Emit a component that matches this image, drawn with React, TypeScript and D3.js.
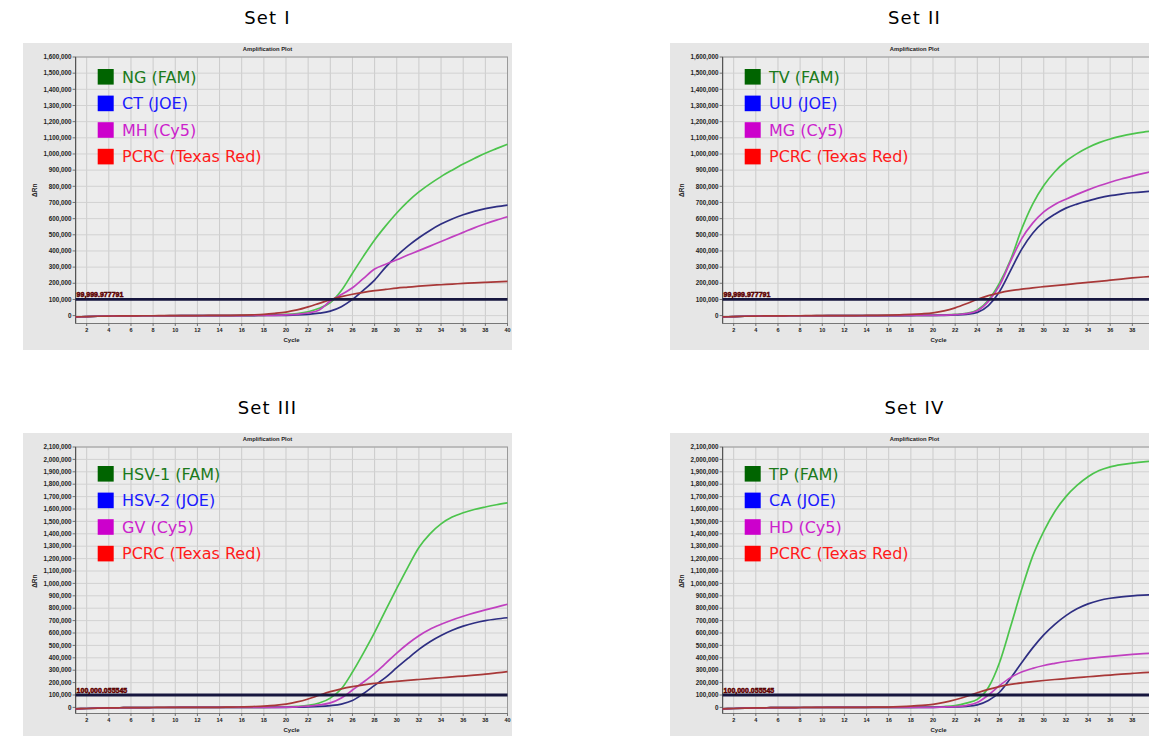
import React, { useEffect } from "react";
import * as d3 from "d3";

// ---------- data (values in thousands of ΔRn) ----------
const CYCLES = [1,2,3,4,5,6,7,8,9,10,11,12,13,14,15,16,17,18,19,20,21,22,23,24,25,26,27,28,29,30,31,32,33,34,35,36,37,38,39,40];
const X_TICKS = [2,4,6,8,10,12,14,16,18,20,22,24,26,28,30,32,34,36,38,40];
const UNIT = 1000;

const SET_TITLES = ["Set I", "Set II", "Set III", "Set IV"];

const SET1_NAMES = ["NG (FAM)", "CT (JOE)", "MH (Cy5)", "PCRC (Texas Red)"];
const SET2_NAMES = ["TV (FAM)", "UU (JOE)", "MG (Cy5)", "PCRC (Texas Red)"];
const SET3_NAMES = ["HSV-1 (FAM)", "HSV-2 (JOE)", "GV (Cy5)", "PCRC (Texas Red)"];
const SET4_NAMES = ["TP (FAM)", "CA (JOE)", "HD (Cy5)", "PCRC (Texas Red)"];

const SET1_NG = [-8,-6,-4,-3,-2,-2,-1,-1,-1,0, 0,0,0,0,0,1,1,2,4,7, 13,24,45,80,155,262,368,468,555,635, 705,765,815,860,900,938,972,1005,1033,1060];
const SET1_CT = [-8,-6,-4,-3,-2,-2,-1,-1,-1,-1, 0,0,0,0,0,0,0,1,1,2, 4,8,15,28,55,100,158,220,300,370, 430,482,527,566,598,624,645,662,674,684];
const SET1_MH = [-8,-6,-4,-3,-2,-2,-1,-1,-1,0, 0,0,0,0,0,0,1,1,2,4, 8,16,35,90,130,172,230,288,318,345, 375,402,430,458,487,515,543,568,591,612];
const SET1_PCRC = [-8,-6,-4,-3,-2,-2,-1,-1,0,0, 0,0,1,1,2,3,5,8,14,22, 35,54,76,98,117,132,144,154,162,170, 176,182,187,191,195,199,203,206,209,212];

const SET2_TV = [-8,-6,-4,-3,-2,-2,-1,-1,-1,0, 0,0,0,0,0,0,0,1,1,2, 4,7,14,35,95,200,345,535,690,805, 890,955,1002,1040,1070,1093,1110,1124,1135,1143];
const SET2_UU = [-8,-6,-4,-3,-2,-2,-1,-1,-1,-1, 0,0,0,0,0,0,0,0,1,1, 2,4,8,20,62,148,278,410,510,580, 627,665,690,710,728,742,752,760,766,770];
const SET2_MG = [-8,-6,-4,-3,-2,-2,-1,-1,-1,0, 0,0,0,0,0,0,0,1,1,1, 3,6,12,30,88,185,335,475,572,642, 688,720,750,778,803,825,845,863,880,895];
const SET2_PCRC = [-8,-6,-4,-3,-2,-2,-1,-1,0,0, 0,0,0,1,2,3,5,7,11,17, 29,48,73,101,124,141,154,164,172,179, 186,192,199,206,212,219,226,233,239,244];

const SET3_HSV1 = [-12,-9,-6,-4,-3,-2,-2,-1,-1,0, 0,0,0,0,0,0,0,1,2,4, 8,16,35,75,150,285,440,605,785,960, 1130,1290,1400,1480,1535,1570,1596,1616,1634,1650];
const SET3_HSV2 = [-12,-9,-6,-4,-3,-2,-2,-1,-1,-1, 0,0,0,0,0,0,0,0,0,1, 2,4,8,15,27,55,112,178,242,320, 395,468,530,580,622,655,681,700,713,723];
const SET3_GV = [-12,-9,-6,-4,-3,-2,-2,-1,-1,0, 0,0,0,0,0,0,0,1,1,2, 5,10,20,36,75,140,205,275,355,438, 513,578,630,670,705,735,762,786,809,832];
const SET3_PCRC = [-12,-9,-6,-4,-3,-2,-2,-1,0,0, 0,0,0,1,2,4,7,11,17,27, 44,68,98,127,150,168,182,193,202,210, 218,225,232,239,246,253,260,268,278,288];

const SET4_TP = [-12,-9,-6,-4,-3,-2,-2,-1,-1,0, 0,0,0,0,0,0,0,1,2,4, 7,15,35,65,160,360,650,950,1220,1420, 1580,1700,1790,1860,1910,1940,1958,1970,1980,1987];
const SET4_CA = [-12,-9,-6,-4,-3,-2,-2,-1,-1,-1, 0,0,0,0,0,0,0,0,0,1, 2,4,8,20,55,122,235,360,480,585, 670,740,795,835,862,880,892,900,905,908];
const SET4_HD = [-12,-9,-6,-4,-3,-2,-2,-1,-1,0, 0,0,0,0,0,0,0,0,0,1, 3,6,15,40,100,175,240,285,315,338, 355,370,382,393,403,412,420,427,433,438];
const SET4_PCRC = [-12,-9,-6,-4,-3,-2,-2,-1,0,0, 0,0,0,1,2,3,6,10,16,25, 40,62,88,118,145,168,185,198,208,217, 225,232,240,247,254,261,268,274,280,285];

const Y_MAX = [1600, 1600, 2100, 2100];
const THRESHOLDS = [99.999977791, 99.999977791, 100.000055545, 100.000055545];
const THRESHOLD_LABELS = ["99,999.977791", "99,999.977791", "100,000.055545", "100,000.055545"];

// ---------- styles ----------
const LEGEND_SQ = ["#006400", "#0000ff", "#cc00cc", "#ff0000"];
const LEGEND_TXT = ["#1b7a1b", "#1a1aff", "#cc22cc", "#ff1a1a"];
const CURVE = ["#4cc44c", "#2e2e82", "#c040c0", "#a83838"];

const SVG_W = 1149;
const SVG_H = 736;
const PANEL_W = 489;
const PANEL_H = 307;

interface PanelCfg {
  title: string;
  ox: number;
  oy: number;
  names: string[];
  series: number[][];
  yMax: number;
  threshold: number;
  thresholdLabel: string;
  zeroY: number;
  legendY: number;
}

const PANELS: PanelCfg[] = [
  { title: SET_TITLES[0], ox: 23, oy: 43, names: SET1_NAMES, series: [SET1_NG, SET1_CT, SET1_MH, SET1_PCRC], yMax: Y_MAX[0], threshold: THRESHOLDS[0], thresholdLabel: THRESHOLD_LABELS[0], zeroY: 272.6, legendY: 33.8 },
  { title: SET_TITLES[1], ox: 670, oy: 43, names: SET2_NAMES, series: [SET2_TV, SET2_UU, SET2_MG, SET2_PCRC], yMax: Y_MAX[1], threshold: THRESHOLDS[1], thresholdLabel: THRESHOLD_LABELS[1], zeroY: 272.6, legendY: 33.8 },
  { title: SET_TITLES[2], ox: 23, oy: 433, names: SET3_NAMES, series: [SET3_HSV1, SET3_HSV2, SET3_GV, SET3_PCRC], yMax: Y_MAX[2], threshold: THRESHOLDS[2], thresholdLabel: THRESHOLD_LABELS[2], zeroY: 274.4, legendY: 40.8 },
  { title: SET_TITLES[3], ox: 670, oy: 433, names: SET4_NAMES, series: [SET4_TP, SET4_CA, SET4_HD, SET4_PCRC], yMax: Y_MAX[3], threshold: THRESHOLDS[3], thresholdLabel: THRESHOLD_LABELS[3], zeroY: 274.4, legendY: 40.8 },
];

const PLOT_LEFT = 52.6;
const PLOT_RIGHT = 484.5;
const PLOT_TOP = 14;
const AXIS_Y = 280.5;

function Panel({ cfg }: { cfg: PanelCfg }) {
  const x = d3.scaleLinear().domain([1, 40]).range([PLOT_LEFT, PLOT_RIGHT]);
  const y = d3.scaleLinear().domain([0, cfg.yMax]).range([cfg.zeroY, PLOT_TOP]);
  const yTicks = d3.range(0, cfg.yMax + 1, 100);
  const line = d3
    .line<number>()
    .x((_, i) => x(CYCLES[i]))
    .y((d) => y(d))
    .curve(d3.curveMonotoneX);
  const fmt = d3.format(",");
  const tY = y(cfg.threshold);
  const plotCx = (PLOT_LEFT + PLOT_RIGHT) / 2;
  const small = { fontFamily: "'Liberation Sans', Arial, sans-serif", fontWeight: 700 } as const;
  // only labels that fit inside the visible page (the reference crops the right panels)
  const visibleXTicks = X_TICKS.filter((c) => cfg.ox + x(c) + 5 <= SVG_W);

  return (
    <g>
      <text x={cfg.ox + PANEL_W / 2} y={cfg.oy - 19} textAnchor="middle" fontFamily="'DejaVu Sans', Verdana, sans-serif" fontSize={18} letterSpacing={1.2} fill="#000">
        {cfg.title}
      </text>
      <g transform={`translate(${cfg.ox},${cfg.oy})`}>
        <rect x={0} y={0} width={PANEL_W} height={PANEL_H} fill="#e6e6e6" />
        <rect x={PLOT_LEFT} y={PLOT_TOP} width={PLOT_RIGHT - PLOT_LEFT} height={AXIS_Y - PLOT_TOP} fill="#ececec" />
        {/* grid */}
        {X_TICKS.map((c) => (
          <line key={"gx" + c} x1={x(c)} x2={x(c)} y1={PLOT_TOP} y2={AXIS_Y} stroke="#cbcbcb" strokeWidth={1} />
        ))}
        {yTicks.map((v) => (
          <line key={"gy" + v} x1={PLOT_LEFT} x2={PLOT_RIGHT} y1={y(v)} y2={y(v)} stroke="#d2d2d2" strokeWidth={1} />
        ))}
        {/* frame */}
        <rect x={PLOT_LEFT} y={PLOT_TOP} width={PLOT_RIGHT - PLOT_LEFT} height={AXIS_Y - PLOT_TOP} fill="none" stroke="#9a9a9a" strokeWidth={1} />
        <line x1={PLOT_LEFT} x2={PLOT_LEFT} y1={PLOT_TOP} y2={AXIS_Y} stroke="#555" strokeWidth={1.2} />
        <line x1={PLOT_LEFT} x2={PLOT_RIGHT} y1={AXIS_Y} y2={AXIS_Y} stroke="#777" strokeWidth={1} />
        {/* y ticks */}
        {yTicks.map((v) => (
          <g key={"ty" + v}>
            <line x1={PLOT_LEFT - 3} x2={PLOT_LEFT} y1={y(v)} y2={y(v)} stroke="#555" strokeWidth={0.8} />
            <text x={PLOT_LEFT - 4} y={y(v) + 2.2} textAnchor="end" fontSize={6.3} fill="#222" {...small}>
              {fmt(v * UNIT)}
            </text>
          </g>
        ))}
        {/* x ticks */}
        {X_TICKS.map((c) => (
          <line key={"txl" + c} x1={x(c)} x2={x(c)} y1={AXIS_Y} y2={AXIS_Y + 2.5} stroke="#555" strokeWidth={0.8} />
        ))}
        {visibleXTicks.map((c) => (
          <text key={"tx" + c} x={x(c)} y={AXIS_Y + 8.5} textAnchor="middle" fontSize={5.5} fill="#222" {...small}>
            {c}
          </text>
        ))}
        <text x={plotCx} y={AXIS_Y + 18.5} textAnchor="middle" fontSize={6} fill="#222" {...small}>
          Cycle
        </text>
        <text x={PANEL_W / 2} y={7.5} textAnchor="middle" fontSize={5.8} fill="#222" {...small}>
          Amplification Plot
        </text>
        <text transform={`translate(14,${(PLOT_TOP + cfg.zeroY) / 2 + 4}) rotate(-90)`} textAnchor="middle" fontSize={6.5} fill="#222" {...small}>
          ΔRn
        </text>
        {/* curves */}
        {cfg.series.map((s, i) => (
          <path key={"c" + i} d={line(s) || ""} fill="none" stroke={CURVE[i]} strokeWidth={1.7} />
        ))}
        {/* threshold */}
        <line x1={PLOT_LEFT} x2={PLOT_RIGHT} y1={tY} y2={tY} stroke="#16163e" strokeWidth={2.8} />
        <text x={PLOT_LEFT + 1} y={tY - 2} fontSize={7} fill="#c00000" stroke="#3a0000" strokeWidth={0.5} {...small}>
          {cfg.thresholdLabel}
        </text>
        {/* legend */}
        {cfg.names.map((n, i) => {
          const cy = cfg.legendY + i * 26.6;
          return (
            <g key={"l" + i}>
              <rect x={74.7} y={cy - 7.8} width={16} height={15.6} fill={LEGEND_SQ[i]} />
              <text x={99} y={cy + 5.8} fontFamily="'DejaVu Sans', Verdana, sans-serif" fontSize={16} fill={LEGEND_TXT[i]}>
                {n}
              </text>
            </g>
          );
        })}
      </g>
    </g>
  );
}

export default function App() {
  useEffect(() => {
    document.body.style.margin = "0";
    document.body.style.overflow = "hidden";
  }, []);
  return (
    <svg width={SVG_W} height={SVG_H} style={{ display: "block", background: "#fff" }}>
      {PANELS.map((p, i) => (
        <Panel key={i} cfg={p} />
      ))}
    </svg>
  );
}
